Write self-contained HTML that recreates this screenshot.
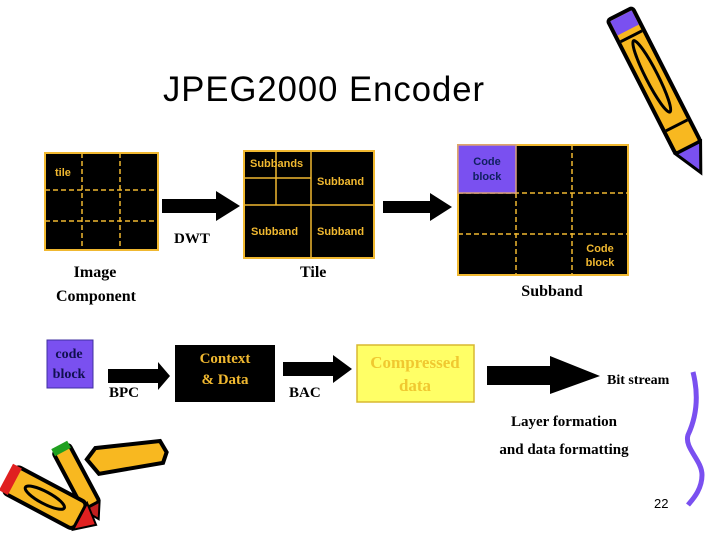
<!DOCTYPE html>
<html><head><meta charset="utf-8"><style>
html,body{margin:0;padding:0;background:#fff;}
svg{display:block;}
.s{font-family:"Liberation Serif",serif;font-weight:bold;}
.a{font-family:"Liberation Sans",sans-serif;font-weight:bold;}
</style></head><body>
<svg width="720" height="540" viewBox="0 0 720 540" xmlns="http://www.w3.org/2000/svg">
<text x="163" y="101" font-family="Liberation Sans,sans-serif" font-size="35" letter-spacing="1" fill="#000" textLength="322" lengthAdjust="spacingAndGlyphs">JPEG2000 Encoder</text>

<rect x="45" y="153" width="113" height="97" fill="#000" stroke="#f0b830" stroke-width="2"/>
<g stroke="#f0b830" stroke-width="1.5" stroke-dasharray="5,3">
<line x1="82" y1="153" x2="82" y2="250"/><line x1="120" y1="153" x2="120" y2="250"/>
<line x1="45" y1="190" x2="158" y2="190"/><line x1="45" y1="221" x2="158" y2="221"/>
</g>
<text x="55" y="176" class="a" font-size="11" fill="#f0b830">tile</text>

<polygon points="162,199 216,199 216,191 240,206 216,221 216,213 162,213" fill="#000"/>
<text x="174" y="243" class="s" font-size="15">DWT</text>

<rect x="244" y="151" width="130" height="107" fill="#000" stroke="#f0b830" stroke-width="2"/>
<g stroke="#f0b830" stroke-width="1.5">
<line x1="244" y1="205" x2="374" y2="205"/><line x1="311" y1="151" x2="311" y2="258"/>
<line x1="276" y1="151" x2="276" y2="205"/><line x1="244" y1="178" x2="311" y2="178"/>
</g>
<text x="250" y="167" class="a" font-size="11" fill="#f0b830">Subbands</text>
<text x="317" y="185" class="a" font-size="11" fill="#f0b830">Subband</text>
<text x="251" y="235" class="a" font-size="11" fill="#f0b830">Subband</text>
<text x="317" y="235" class="a" font-size="11" fill="#f0b830">Subband</text>
<text x="300" y="277" class="s" font-size="16">Tile</text>
<text x="95" y="277" class="s" font-size="16" text-anchor="middle">Image</text>
<text x="96" y="301" class="s" font-size="16" text-anchor="middle">Component</text>

<polygon points="383,201 430,201 430,193 452,207 430,221 430,213 383,213" fill="#000"/>

<rect x="458" y="145" width="170" height="130" fill="#000" stroke="#f0b830" stroke-width="2"/>
<g stroke="#f0b830" stroke-width="1.5" stroke-dasharray="5,3">
<line x1="516" y1="193" x2="516" y2="275"/><line x1="572" y1="145" x2="572" y2="275"/>
<line x1="458" y1="193" x2="628" y2="193"/><line x1="458" y1="234" x2="628" y2="234"/>
</g>
<rect x="458" y="145" width="58" height="48" fill="#7a50f0" stroke="#d8a080" stroke-width="1.5"/>
<text x="487" y="165" class="a" font-size="11" fill="#102060" text-anchor="middle">Code</text>
<text x="487" y="180" class="a" font-size="11" fill="#102060" text-anchor="middle">block</text>
<text x="600" y="252" class="a" font-size="11" fill="#f0b830" text-anchor="middle">Code</text>
<text x="600" y="266" class="a" font-size="11" fill="#f0b830" text-anchor="middle">block</text>
<text x="552" y="296" class="s" font-size="16" text-anchor="middle">Subband</text>

<rect x="47" y="340" width="46" height="48" fill="#7a50f0" stroke="#4030a0" stroke-width="1"/>
<text x="69" y="358" class="s" font-size="14" fill="#101050" text-anchor="middle">code</text>
<text x="69" y="378" class="s" font-size="14" fill="#101050" text-anchor="middle">block</text>
<polygon points="108,369 158,369 158,362 170,376 158,390 158,383 108,383" fill="#000"/>
<text x="109" y="397" class="s" font-size="15">BPC</text>
<rect x="175" y="345" width="100" height="57" fill="#000"/>
<text x="225" y="363" class="s" font-size="15" fill="#f0b830" text-anchor="middle">Context</text>
<text x="225" y="384" class="s" font-size="15" fill="#f0b830" text-anchor="middle">&amp; Data</text>
<polygon points="283,362 333,362 333,355 352,369 333,383 333,376 283,376" fill="#000"/>
<text x="289" y="397" class="s" font-size="15">BAC</text>
<rect x="357" y="345" width="117" height="57" fill="#ffff66" stroke="#d8b830" stroke-width="1.5"/>
<text x="415" y="368" class="s" font-size="17" fill="#f0c830" text-anchor="middle">Compressed</text>
<text x="415" y="391" class="s" font-size="17" fill="#f0c830" text-anchor="middle">data</text>
<polygon points="487,366 550,366 550,356 600,376 550,394 550,385 487,385" fill="#000"/>
<text x="607" y="384" class="s" font-size="14">Bit stream</text>
<text x="564" y="426" class="s" font-size="15" text-anchor="middle">Layer formation</text>
<text x="564" y="454" class="s" font-size="15" text-anchor="middle">and data formatting</text>
<text x="654" y="508" font-family="Liberation Sans,sans-serif" font-size="13">22</text>

<path d="M693,372 C700,400 695,420 688,435 C684,448 702,460 702,475 C702,490 692,500 688,505" fill="none" stroke="#7a50f0" stroke-width="5"/>

<g transform="translate(620,14) rotate(-27)">
<rect x="-14" y="0" width="28" height="150" rx="3" fill="#f8b820" stroke="#000" stroke-width="4"/>
<rect x="-12" y="2" width="24" height="16" fill="#7a50f0"/>
<ellipse cx="0" cy="70" rx="6" ry="40" fill="none" stroke="#000" stroke-width="3"/>
<line x1="-12" y1="25" x2="12" y2="25" stroke="#000" stroke-width="3"/>
<line x1="-12" y1="125" x2="12" y2="125" stroke="#000" stroke-width="3"/>
<polygon points="-14,150 14,150 0,178" fill="#7a50f0" stroke="#000" stroke-width="3"/>
</g>

<g transform="translate(60,448) rotate(-8)">
<polygon points="0,10 10,0 75,2 80,14 75,24 10,26" fill="#f8b820" stroke="#000" stroke-width="4" transform="translate(25,5)"/>
</g>
<g transform="translate(62,448) rotate(62)">
<rect x="0" y="-8" width="65" height="18" rx="3" fill="#f8b820" stroke="#000" stroke-width="4"/>
<rect x="-4" y="-8" width="8" height="18" fill="#20a020"/>
<polygon points="65,-8 65,10 80,1" fill="#c02020" stroke="#000" stroke-width="2"/>
</g>
<g transform="translate(10,478) rotate(28)">
<rect x="0" y="-14" width="80" height="30" rx="5" fill="#f8b820" stroke="#000" stroke-width="4"/>
<rect x="-4" y="-14" width="10" height="30" fill="#e02020"/>
<ellipse cx="40" cy="1" rx="22" ry="6" fill="none" stroke="#000" stroke-width="3"/>
<polygon points="80,-14 80,16 98,1" fill="#e02020" stroke="#000" stroke-width="2"/>
</g>
</svg>
</body></html>
